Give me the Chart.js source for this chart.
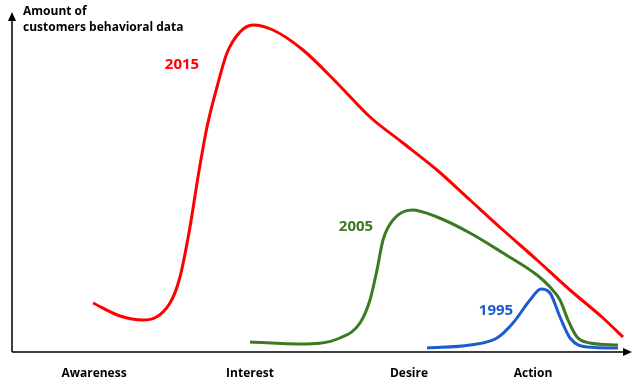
<!DOCTYPE html>
<html lang="en">
<head>
    <meta charset="utf-8"/>
    <title>Customer behavioral data</title>
    <script src="https://cdn.jsdelivr.net/npm/chart.js"></script>
    <style>
        html, body { margin: 0; padding: 0; background: #fff; }
        #wrap { width: 637px; height: 386px; position: relative; }
    </style>
</head>
<body>
<div id="wrap"><canvas id="aidaChart"></canvas></div>
<script>
    // funnel stages on the x axis and where their labels sit
    const stages = ['Awareness', 'Interest', 'Desire', 'Action'];
    const stagePos = [82, 238, 397, 521];

    // curves (x along the funnel, y = amount of data)
    const x2015 = [81, 108, 131, 158, 168, 178, 186, 195, 205, 215, 228, 241, 261, 291, 325, 358, 391, 425, 458, 491, 525, 558, 591, 611];
    const y2015 = [49, 36, 32, 49, 75, 125, 175, 225, 265, 299, 320, 327, 322, 302, 269, 235, 209, 182, 152, 122, 92, 62, 34, 15];

    const x2005 = [238, 288, 328, 348, 358, 365, 371, 381, 400, 425, 458, 491, 525, 538, 548, 556, 565, 578, 606];
    const y2005 = [10, 8, 14, 29, 52, 82, 112, 132, 142, 135, 119, 99, 77, 65, 52, 32, 15, 9, 7];

    const x1995 = [415, 458, 485, 501, 518, 529, 538, 548, 558, 575, 606];
    const y1995 = [4, 7, 14, 29, 52, 63, 59, 35, 14, 5, 4];

    // series names and where they are written
    const names = ['2015', '2005', '1995'];
    const nameX = [170, 344, 484];
    const nameY = [287, 125, 41];
    const colors = ['#ff0000', '#3b7a20', '#1a5bd0'];

    function pts(xs, ys) {
        return xs.map((x, i) => ({ x: x, y: ys[i] }));
    }

    const axesPlugin = {
        id: 'axesPlugin',
        afterDraw(chart) {
            const ctx = chart.ctx;
            const a = chart.chartArea;
            const xs = chart.scales.x, ys = chart.scales.y;
            ctx.save();
            ctx.strokeStyle = '#000';
            ctx.fillStyle = '#000';
            ctx.lineWidth = 1.5;
            // x axis
            ctx.beginPath();
            ctx.moveTo(a.left, a.bottom);
            ctx.lineTo(a.right - 6, a.bottom);
            ctx.stroke();
            ctx.beginPath();
            ctx.moveTo(a.right, a.bottom);
            ctx.lineTo(a.right - 9, a.bottom - 4);
            ctx.lineTo(a.right - 9, a.bottom + 4);
            ctx.closePath();
            ctx.fill();
            // y axis
            ctx.beginPath();
            ctx.moveTo(a.left, a.bottom);
            ctx.lineTo(a.left, a.top + 6);
            ctx.stroke();
            ctx.beginPath();
            ctx.moveTo(a.left, a.top);
            ctx.lineTo(a.left - 4, a.top + 9);
            ctx.lineTo(a.left + 4, a.top + 9);
            ctx.closePath();
            ctx.fill();

            // y axis title
            ctx.font = 'bold 12px "Open Sans"';
            ctx.textAlign = 'left';
            ctx.textBaseline = 'middle';
            ctx.fillText('Amount of', a.left + 11, 12);
            ctx.fillText('customers behavioral data', a.left + 11, 28);

            // stage labels under the x axis
            ctx.textAlign = 'center';
            stages.forEach((s, i) => {
                ctx.fillText(s, xs.getPixelForValue(stagePos[i]), a.bottom + 22);
            });

            // series names
            ctx.font = 'bold 15px "Open Sans"';
            names.forEach((n, i) => {
                ctx.fillStyle = colors[i];
                ctx.fillText(n, xs.getPixelForValue(nameX[i]), ys.getPixelForValue(nameY[i]));
            });
            ctx.restore();
        }
    };

    new Chart(document.getElementById('aidaChart'), {
        type: 'scatter',
        data: {
            datasets: [
                { label: names[0], data: pts(x2015, y2015), borderColor: colors[0] },
                { label: names[1], data: pts(x2005, y2005), borderColor: colors[1] },
                { label: names[2], data: pts(x1995, y1995), borderColor: colors[2] }
            ].map(d => Object.assign(d, {
                showLine: true,
                borderWidth: 3,
                pointRadius: 0,
                tension: 0.4,
                cubicInterpolationMode: 'monotone'
            }))
        },
        options: {
            responsive: true,
            maintainAspectRatio: false,
            animation: false,
            layout: { padding: { left: 12, right: 5, top: 12, bottom: 34 } },
            plugins: { legend: { display: false }, tooltip: { enabled: false } },
            scales: {
                x: { display: false, type: 'linear', min: 0, max: 620 },
                y: { display: false, min: 0, max: 340 }
            }
        },
        plugins: [axesPlugin]
    });
</script>
</body>
</html>
